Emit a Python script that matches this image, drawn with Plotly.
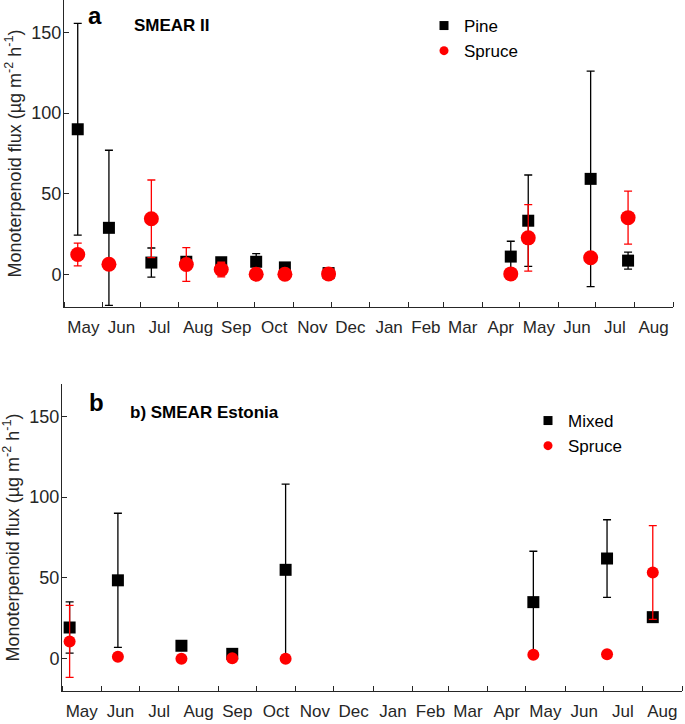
import plotly.graph_objects as go

# ---------------- Panel a: SMEAR II ----------------
a_dates = ["2014-05-12", "2014-06-06", "2014-07-10", "2014-08-07", "2014-09-04",
           "2014-10-02", "2014-10-25", "2014-11-29", "2015-04-24", "2015-05-08",
           "2015-06-27", "2015-07-27"]
a_pine = [90, 29, 7.5, 8, 7.7, 8, 4.5, 1, 11.2, 33.4, 59.3, 8.7]
a_pine_err = [65.5, 48, 9, 2, 1.5, 5, 2.5, 1.5, 9.5, 28.3, 66.7, 5.2]
a_spruce = [12.5, 6.5, 34.6, 6.3, 3.2, 0.3, 0.3, 0.5, 0.5, 22.8, 10.5, 35.3]
a_spruce_err = [7, 3, 24, 10.5, 4.5, 0, 0, 0, 0, 20.6, 3, 16.4]

# ---------------- Panel b: SMEAR Estonia ----------------
b_dates = ["2014-05-07", "2014-06-14", "2014-08-03", "2014-09-12", "2014-10-24",
           "2015-05-07", "2015-07-04", "2015-08-09"]
b_mixed = [19.3, 48.5, 8, 3, 55, 35, 62, 25.7]
b_mixed_err = [15.9, 41.5, 1, 1, 53, 31.5, 24, 2]
b_spruce = [10.7, 1.2, 0, 0.3, 0, 2.5, 2.7, 53.3]
b_spruce_err = [22.3, 0, 0, 0, 0, 0, 0, 29]

x_range = ["2014-05-01", "2015-09-01"]
y_ticks = [0, 50, 100, 150]
y_title = "Monoterpenoid flux (µg m<sup>-2</sup> h<sup>-1</sup>)"

FONT = "Arial, Liberation Sans, sans-serif"
AX = "#262626"
RED = "#ff0000"
BLACK = "#000000"

fig = go.Figure()


def add_series(x, y, err, name, color, symbol, size, xa, ya):
    fig.add_trace(go.Scatter(
        x=x, y=y, mode="markers", name=name, showlegend=False,
        marker=dict(color=color, symbol=symbol, size=size, line=dict(width=0)),
        error_y=dict(type="data", array=err, visible=True, color=color,
                     thickness=1.3, width=4),
        xaxis=xa, yaxis=ya, cliponaxis=False))


add_series(a_dates, a_pine, a_pine_err, "Pine", BLACK, "square", 12, "x", "y")
add_series(a_dates, a_spruce, a_spruce_err, "Spruce", RED, "circle", 15, "x", "y")
add_series(b_dates, b_mixed, b_mixed_err, "Mixed", BLACK, "square", 12, "x2", "y2")
add_series(b_dates, b_spruce, b_spruce_err, "Spruce", RED, "circle", 12, "x2", "y2")

# legend entries
for name, color, symbol, lg in [("Pine", BLACK, "square", "legend"),
                                ("Spruce", RED, "circle", "legend"),
                                ("Mixed", BLACK, "square", "legend2"),
                                ("Spruce", RED, "circle", "legend2")]:
    fig.add_trace(go.Scatter(x=[None], y=[None], mode="markers", name=name,
                             marker=dict(color=color, symbol=symbol, size=9),
                             legend=lg, showlegend=True,
                             xaxis="x" if lg == "legend" else "x2",
                             yaxis="y" if lg == "legend" else "y2"))

W, H = 685, 724


def xaxis(domain, anchor):
    return dict(type="date", domain=domain, anchor=anchor, range=x_range,
                tick0="2014-05-01", dtick="M1", ticklabelmode="period",
                tickformat="%b", ticks="inside", ticklen=5, tickcolor=AX,
                showline=True, linecolor=AX, linewidth=1, showgrid=False,
                zeroline=False, automargin=False, ticklabelstandoff=5,
                tickfont=dict(family=FONT, size=17, color=AX))


def yaxis(domain, anchor):
    return dict(domain=domain, anchor=anchor, range=[-20, 170], tickvals=y_ticks,
                ticks="inside", ticklen=5, tickcolor=AX, showline=True,
                linecolor=AX, linewidth=1, showgrid=False, zeroline=False,
                automargin=False, ticklabelstandoff=-2,
                tickfont=dict(family=FONT, size=18, color=AX),
                title=dict(text=y_title, font=dict(family=FONT, size=18, color=AX),
                           standoff=5))


def note(text, px, py, size):
    return dict(text=text, x=px / W, y=1 - py / H, xref="paper", yref="paper",
                xanchor="center", yanchor="middle", showarrow=False,
                font=dict(family=FONT, size=size, color="#000"))


fig.update_layout(
    template="none",
    width=W, height=H,
    margin=dict(l=0, r=0, t=0, b=0),
    paper_bgcolor="white", plot_bgcolor="white",
    font=dict(family=FONT, color=AX),
    xaxis=xaxis([64 / W, 673 / W], "y"),
    yaxis=yaxis([1 - 307 / H, 1.0], "x"),
    xaxis2=xaxis([62 / W, 682 / W], "y2"),
    yaxis2=yaxis([1 - 691 / H, 1 - 384 / H], "x2"),
    legend=dict(x=424 / W, y=1 - 8 / H, xanchor="left", yanchor="top",
                bgcolor="rgba(0,0,0,0)", font=dict(family=FONT, size=17, color="#000"),
                tracegroupgap=0, itemwidth=30),
    legend2=dict(x=528 / W, y=1 - 403 / H, xanchor="left", yanchor="top",
                 bgcolor="rgba(0,0,0,0)", font=dict(family=FONT, size=17, color="#000"),
                 tracegroupgap=0, itemwidth=30),
    annotations=[
        note("<b>a</b>", 95, 16, 24),
        note("<b>SMEAR II</b>", 172, 26, 17),
        note("<b>b</b>", 96, 402, 24),
        note("<b>b) SMEAR Estonia</b>", 204, 412, 17),
    ],
)

fig.write_html("out.html", config={"displayModeBar": False},
               post_script="document.body.style.margin='0';")
